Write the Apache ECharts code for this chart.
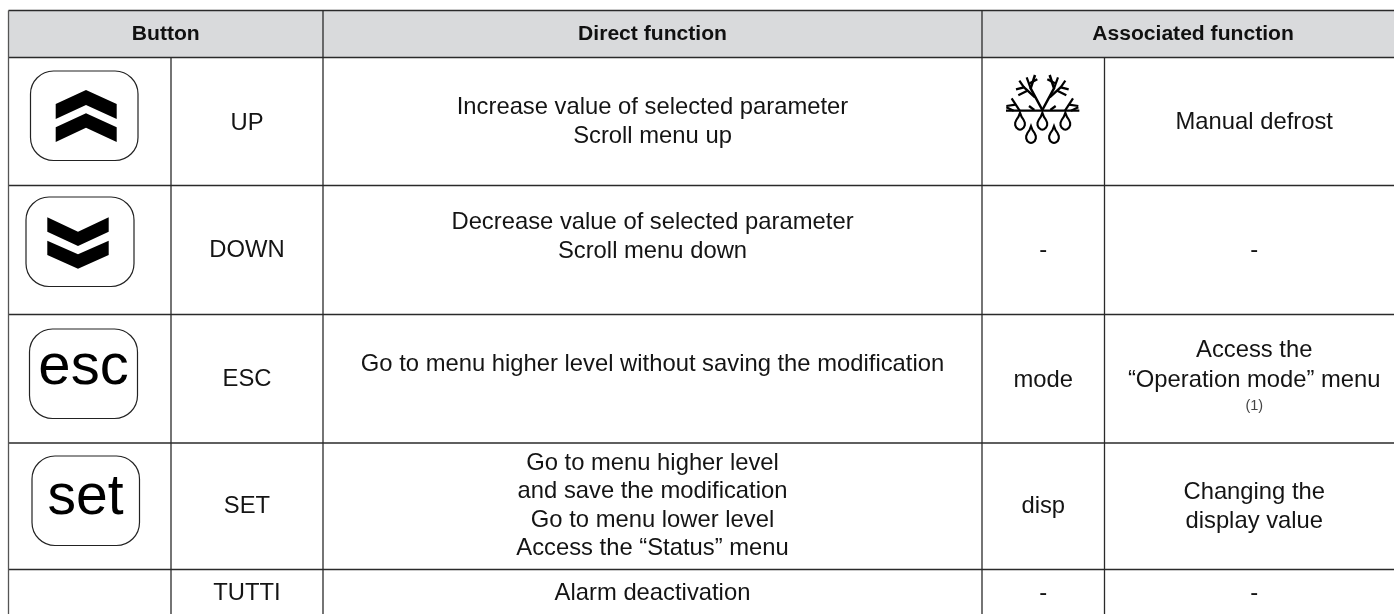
<!DOCTYPE html>
<html><head><meta charset="utf-8">
<style>html,body{margin:0;padding:0;background:#fff}#c{width:1394px;height:614px}</style>
<script src="https://cdn.jsdelivr.net/npm/echarts@6/dist/echarts.min.js"></script>
</head><body><div id="c"></div>
<script>
const headers = ["Button", "Direct function", "Associated function"];
const buttonNames = ["UP", "DOWN", "ESC", "SET", "TUTTI"];
const directFunctions = [
  ["Increase value of selected parameter", "Scroll menu up"],
  ["Decrease value of selected parameter", "Scroll menu down"],
  ["Go to menu higher level without saving the modification"],
  ["Go to menu higher level", "and save the modification", "Go to menu lower level", "Access the \u201cStatus\u201d menu"],
  ["Alarm deactivation"]
];
const associatedKeys = ["", "-", "mode", "disp", "-"];
const associatedFunctions = [
  ["Manual defrost"],
  ["-"],
  ["Access the", "\u201cOperation mode\u201d menu"],
  ["Changing the", "display value"],
  ["-"]
];
const footnoteMark = "(1)";
const keyCaps = ["esc", "set"];

// layout
const colX = [8.5, 171, 323, 982, 1104.5, 1404];
const rowY = [10.5, 57.5, 185.5, 314.5, 443, 569.5];
const nameBase = [131.7, 258.3, 387.7, 514.3, 602];
const directBase = [[116,145],[230.7,259.3],[373],[471.7,500,529,557],[601.7]];
const keyBase = [0,258.3,388.3,515,602];
const assocBase = [[130.7],[258.3],[358.3,388.3],[501,530],[602]];
const LINE = '#2a2a2a', FONT = '"Liberation Sans", Arial, sans-serif';
const els = [];
const txt = (x, y, t, size, weight, color) => els.push({type:'text', silent:true, style:{x, y, text:t, fill:color||'#141414',
  font:`${weight||'normal'} ${size}px ${FONT}`, textAlign:'center', textVerticalAlign:'middle'}});
const line = (x1,y1,x2,y2,c,w) => els.push({type:'line', shape:{x1,y1,x2,y2}, style:{stroke:c||LINE, lineWidth:w||1.3}});
const poly = (pts, fill) => els.push({type:'polygon', shape:{points:pts}, style:{fill:fill||'#000'}});
const cap = (x,y,w,h) => els.push({type:'rect', shape:{x,y,width:w,height:h,r:23}, style:{fill:'#fff',stroke:'#222',lineWidth:1.2}});

// header band
els.push({type:'rect', shape:{x:colX[0],y:rowY[0],width:1394-colX[0],height:rowY[1]-rowY[0]}, style:{fill:'#d9dadc'}});
rowY.forEach(y => line(colX[0],y,1394,y));
line(colX[0],rowY[0],colX[0],614,'#555');
line(colX[1],rowY[1],colX[1],614);
line(colX[2],rowY[0],colX[2],614);
line(colX[3],rowY[0],colX[3],614);
line(colX[4],rowY[1],colX[4],614);

// header text
const HS = 21.1, BO = 8.1;
txt((colX[0]+colX[2])/2, 34.2, headers[0], HS, 'bold', '#111');
txt((colX[2]+colX[3])/2, 34.2, headers[1], HS, 'bold', '#111');
txt((colX[3]+colX[5])/2, 34.2, headers[2], HS, 'bold', '#111');

// body text
const SZ = 23.8;
const cx = [(colX[1]+colX[2])/2,(colX[2]+colX[3])/2,(colX[3]+colX[4])/2,(colX[4]+colX[5])/2];
buttonNames.forEach((n,i)=>txt(cx[0], nameBase[i]-BO, n, SZ));
directFunctions.forEach((ls,i)=>ls.forEach((l,j)=>txt(cx[1], directBase[i][j]-BO, l, SZ)));
associatedKeys.forEach((k,i)=>{ if(k) txt(cx[2], keyBase[i]-BO, k, SZ); });
associatedFunctions.forEach((ls,i)=>ls.forEach((l,j)=>txt(cx[3], assocBase[i][j]-BO, l, SZ)));
txt(cx[3], 405.5, footnoteMark, 14.5, 'normal', '#444');

// key caps
cap(30.5,71,107.5,89.5); cap(26,197,108,89.5); cap(29.5,329,108,89.5); cap(32,456,107.5,89.5);
poly([[86,90],[116.7,104],[116.7,119],[86,105],[55.7,119],[55.7,104]]);
poly([[86,113.3],[116.7,127.3],[116.7,142],[86,127.7],[55.7,142],[55.7,127.3]]);
poly([[47.3,217.3],[78,231.7],[108.7,217.3],[108.7,231.7],[78,246],[47.3,231.7]]);
poly([[47.3,240.7],[78,254.3],[108.7,240.7],[108.7,255],[78,268.7],[47.3,255]]);
els.push({type:'text',style:{x:83.5,y:397,text:keyCaps[0],fill:'#000',font:`58px ${FONT}`,textAlign:'center',textVerticalAlign:'bottom'}});
els.push({type:'text',style:{x:85.5,y:527,text:keyCaps[1],fill:'#000',font:`57px ${FONT}`,textAlign:'center',textVerticalAlign:'bottom'}});

// defrost icon (crop coordinates scaled by 1/3 from x=960)
const P = (x,y)=>[960+x/3,y/3];
const stroke = (pts,w)=>els.push({type:'polyline',shape:{points:pts.map(p=>P(p[0],p[1]))},style:{stroke:'#000',lineWidth:w||2.2,fill:null}});
stroke([[138,332],[358,332]],2.4);
[[1,247],[-1,247]].forEach(([s,c])=>{
  const M=(dx,y)=>[c+s*dx,y];
  stroke([M(0,330),M(-35,265),M(-22,225)],2.5);
  stroke([M(-35,265),M(-47,232)]);
  stroke([M(-22,292),M(-55,262),M(-79,268)],2.4);
  stroke([M(-55,262),M(-69,242)]);
  stroke([M(-38,250),M(-15,238)]);
  stroke([M(-45,272),M(-72,286)],2.2);
  stroke([M(-24,330),M(-40,318)],2.2);
  stroke([M(-68,332),M(-92,295)],2.2);
  stroke([M(-80,314),M(-108,318)],2.2);
  stroke([M(-86,332),M(-108,322)],2.2);
});
const dropShape = [[0,-9],[1.5,-5],[3.5,-2],[4.8,1],[4.8,3.5],[3.7,6],[1.6,7.6],[0,8],[-1.6,7.6],[-3.7,6],[-4.8,3.5],[-4.8,1],[-3.5,-2],[-1.5,-5]];
const drop=(x,y)=>{const [a,b]=P(x,y);
  els.push({type:'polygon',shape:{points:dropShape.map(d=>[a+d[0],b+d[1]])},style:{fill:'#fff',stroke:'#000',lineWidth:2.1}});};
[[180,365],[247,365],[316,365],[213,405],[282,405]].forEach(d=>drop(d[0],d[1]));

const chart = echarts.init(document.getElementById('c'), null, {renderer:'canvas'});
chart.setOption({animation:false, graphic:{elements:els}});
</script></body></html>
